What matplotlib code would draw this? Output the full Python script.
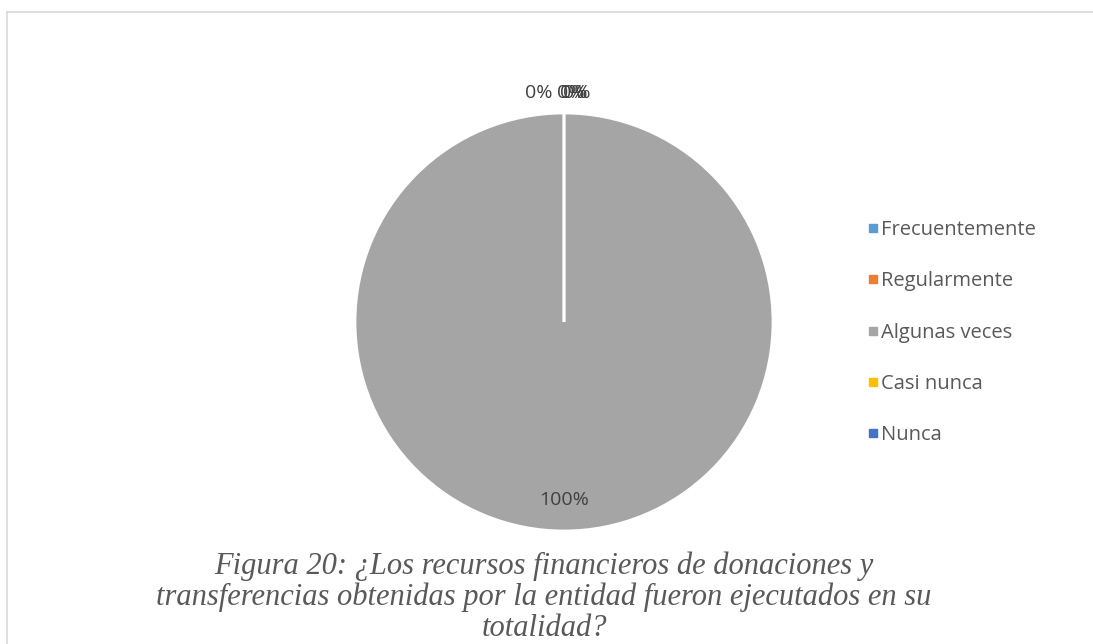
import matplotlib.pyplot as plt
from matplotlib.lines import Line2D
import numpy as np

categories = ['Frecuentemente', 'Regularmente', 'Algunas veces', 'Casi nunca', 'Nunca']
values = [0, 0, 100, 0, 0]
colors = ['#5B9BD5', '#ED7D31', '#A5A5A5', '#FFC000', '#4472C4']
caption = ('Figura 20: ¿Los recursos financieros de donaciones y\n'
           'transferencias obtenidas por la entidad fueron ejecutados en su\n'
           'totalidad?')

W, H = 1093, 644
fig = plt.figure(figsize=(W / 100, H / 100), dpi=100)

# light frame (only top/left visible in the source)
fig.add_artist(Line2D([7 / W, 1], [1 - 12 / H, 1 - 12 / H], color='#D9D9D9', lw=1.2))
fig.add_artist(Line2D([7 / W, 7 / W], [0, 1 - 12 / H], color='#D9D9D9', lw=1.2))

# pie axes: center (564, 322), radius 209 px
cx, cy, r = 564, 322, 209
ax = fig.add_axes([(cx - r) / W, (H - cy - r) / H, 2 * r / W, 2 * r / H])
wedges, _ = ax.pie(values, colors=colors, startangle=90, counterclock=False,
                   radius=1, wedgeprops=dict(edgecolor='white', linewidth=2))
ax.set_xlim(-1, 1)
ax.set_ylim(-1, 1)
ax.set_aspect('auto')
ax.axis('off')

# percentage labels (zero slices stack up at the top, like Excel does)
total = sum(values)
zero_x = [-0.055, -0.035, 0, -0.02, -0.005]
for i, (w, v) in enumerate(zip(wedges, values)):
    pct = f'{v / total * 100:.0f}%'
    ang = np.deg2rad((w.theta1 + w.theta2) / 2)
    if v == 0:
        x, y = zero_x[i], 1.095
        ha = 'right' if i == 0 else 'left'
    else:
        x, y = 0.85 * np.cos(ang), 0.85 * np.sin(ang)
        ha = 'center'
    ax.text(x, y, pct, ha=ha, va='center', fontsize=14, color='#404040',
            family='Open Sans', clip_on=False)

# legend
handles = [Line2D([], [], marker='s', linestyle='none', markersize=6,
                  markerfacecolor=c, markeredgecolor=c) for c in colors]
fig.legend(handles, categories, loc='upper left',
           bbox_to_anchor=(850 / W, 1 - 202 / H), frameon=False,
           prop={'family': 'Open Sans', 'size': 14.5}, labelcolor='#595959',
           labelspacing=1.55, handlelength=0.5, handletextpad=0.15)

fig.text(544 / W, 1 - 597 / H, caption, ha='center', va='center',
         family='Liberation Serif', style='italic', fontsize=22,
         color='#595959', linespacing=1.07)

fig.savefig('out.png', dpi=100)
